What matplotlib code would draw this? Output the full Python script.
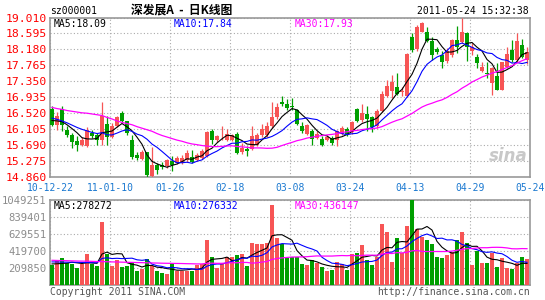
import numpy as np
import pandas as pd
import matplotlib
matplotlib.use("Agg")
import matplotlib.pyplot as plt

# daily candles (open, high, low, close)
opens = [16.64, 16.20, 16.63, 16.09, 15.96, 15.79, 15.68, 15.66, 16.00, 15.94,
         15.83, 16.25, 15.90, 16.18, 16.52, 16.31, 15.83, 15.44, 15.33, 15.50,
         14.88, 15.18, 15.18, 15.14, 15.27, 15.23, 15.23, 15.31, 15.37, 15.31,
         15.36, 15.40, 16.05, 15.82, 15.97, 15.83, 15.82, 15.99, 15.50, 15.60,
         15.59, 15.70, 15.94, 15.94, 16.18, 16.42, 16.80, 16.77, 16.71, 16.61,
         16.18, 15.99, 16.05, 15.88, 15.85, 15.83, 15.87, 15.83, 15.99, 16.12,
         16.02, 16.63, 16.35, 16.51, 16.41, 16.18, 16.58, 16.97, 17.10, 17.19,
         17.07, 16.97, 18.49, 18.18, 18.64, 18.64, 18.40, 18.19, 18.04, 17.88,
         18.04, 18.43, 18.38, 18.60, 18.14, 17.99, 17.62, 17.56, 17.30, 17.48,
         17.13, 17.73, 18.17, 17.91, 18.30, 17.91]
highs = [16.70, 16.54, 16.71, 16.18, 16.00, 15.92, 15.90, 16.15, 16.09, 16.00,
         16.80, 16.44, 16.26, 16.46, 16.57, 16.33, 15.94, 15.50, 15.55, 15.52,
         15.64, 15.22, 15.26, 15.32, 15.40, 15.40, 15.42, 15.57, 15.57, 15.48,
         15.60, 16.06, 16.12, 15.96, 16.18, 16.11, 15.98, 16.03, 15.75, 15.66,
         16.18, 16.00, 16.25, 16.30, 16.80, 16.78, 16.97, 16.88, 16.91, 16.64,
         16.30, 16.24, 16.10, 16.05, 15.92, 15.96, 15.92, 16.08, 16.18, 16.17,
         16.32, 16.66, 16.77, 16.72, 16.45, 16.62, 17.10, 17.39, 17.52, 17.56,
         17.21, 18.08, 18.60, 18.82, 18.90, 18.75, 18.51, 18.25, 18.14, 18.21,
         18.45, 18.80, 18.99, 18.64, 18.34, 18.05, 17.86, 17.86, 17.73, 17.82,
         17.86, 18.25, 18.43, 18.60, 18.45, 18.25]
lows = [16.18, 16.09, 16.05, 15.90, 15.62, 15.53, 15.66, 15.64, 15.88, 15.70,
        15.70, 15.70, 15.88, 16.15, 16.26, 15.96, 15.34, 15.30, 15.30, 14.86,
        14.86, 14.95, 15.08, 15.10, 15.02, 15.20, 15.20, 15.24, 15.22, 15.27,
        15.33, 15.38, 15.72, 15.78, 15.83, 15.80, 15.80, 15.46, 15.47, 15.40,
        15.55, 15.66, 15.90, 15.90, 16.14, 16.38, 16.70, 16.60, 16.61, 16.22,
        16.00, 15.96, 15.70, 15.84, 15.66, 15.80, 15.70, 15.66, 15.96, 15.93,
        15.98, 16.28, 16.30, 16.05, 16.03, 16.14, 16.55, 16.93, 16.91, 17.00,
        16.96, 16.93, 18.11, 18.14, 18.62, 18.38, 17.91, 18.05, 17.69, 17.82,
        17.99, 18.08, 18.34, 17.88, 18.04, 17.69, 17.60, 17.43, 17.00, 17.13,
        17.13, 17.70, 17.86, 17.86, 17.95, 17.80]
closes = [16.22, 16.46, 16.22, 15.94, 15.76, 15.68, 15.81, 16.07, 15.92, 15.83,
          16.44, 15.90, 16.19, 16.42, 16.31, 16.01, 15.38, 15.36, 15.50, 14.92,
          15.18, 15.05, 15.12, 15.30, 15.16, 15.36, 15.36, 15.49, 15.24, 15.44,
          15.53, 16.02, 15.82, 15.92, 15.98, 15.99, 15.96, 15.49, 15.62, 15.53,
          15.92, 15.94, 16.11, 16.18, 16.42, 16.68, 16.77, 16.65, 16.68, 16.25,
          16.05, 16.20, 15.85, 15.99, 15.70, 15.90, 15.75, 16.05, 16.14, 15.99,
          16.28, 16.32, 16.52, 16.38, 16.16, 16.58, 17.03, 17.22, 17.32, 17.02,
          17.10, 18.05, 18.17, 18.75, 18.86, 18.40, 18.04, 18.11, 17.85, 18.14,
          18.43, 18.23, 18.64, 18.25, 18.25, 17.82, 17.73, 17.54, 17.69, 17.13,
          17.86, 18.05, 17.91, 18.40, 17.99, 18.12]
# volume (thousands of shares)
volumes = [247, 300, 328, 275, 259, 206, 259, 377, 259, 234,
           780, 381, 234, 308, 218, 234, 287, 177, 194, 316,
           234, 177, 153, 132, 275, 177, 177, 177, 177, 247,
           259, 552, 348, 206, 275, 340, 340, 369, 377, 234,
           524, 503, 503, 520, 988, 581, 511, 336, 348, 348,
           259, 247, 308, 267, 218, 177, 185, 279, 259, 185,
           381, 389, 499, 308, 247, 348, 756, 658, 287, 585,
           397, 731, 1049, 687, 593, 552, 511, 348, 328, 369,
           410, 552, 654, 520, 247, 418, 267, 267, 389, 218,
           328, 206, 194, 267, 348, 316]
volumes = [v * 1000 for v in volumes]

# moving-average values at the left edge (their windows start before the chart)
ma5_head = [16.33, 16.32, 16.30, 16.22]
ma10_head = [16.39, 16.36, 16.32, 16.27, 16.21, 16.15, 16.10, 16.06, 16.02]
ma30_head = [16.67, 16.64, 16.62, 16.59, 16.57, 16.55, 16.53, 16.52, 16.50, 16.48,
             16.46, 16.41, 16.37, 16.32, 16.28, 16.25, 16.22, 16.17, 16.13, 16.09,
             16.05, 15.99, 15.94, 15.90, 15.86, 15.82, 15.79, 15.75, 15.72]
vma5_head = [260000, 262000, 266000, 270000]
vma10_head = [285000, 284000, 283000, 282000, 281000, 280000, 278000, 277000, 276000]
vma30_head = [305000, 303000, 301000, 300000, 298000, 296000, 295000, 294000, 292000, 290000,
              289000, 287000, 285000, 284000, 282000, 280000, 279000, 277000, 276000, 274000,
              272000, 271000, 269000, 268000, 267000, 266000, 265000, 263000, 262000]

date_labels = ["10-12-22", "11-01-10", "01-26", "02-18", "03-08",
               "03-24", "04-13", "04-29", "05-24"]
price_ticks = [14.860, 15.275, 15.690, 16.105, 16.520, 16.935,
               17.350, 17.765, 18.180, 18.595, 19.010]
vol_ticks = [209850, 419700, 629551, 839401, 1049251]


def moving(values, n, head):
    m = pd.Series(values).rolling(n).mean().to_numpy()
    m[:len(head)] = head
    return m


W, H = 545, 300
RED = "#f75555"
GREEN = "#009f00"
MONO = "DejaVu Sans Mono"

fig = plt.figure(figsize=(W / 100, H / 100), dpi=100)
fig.patch.set_facecolor("white")


def fx(x):
    return x / W


def fy(y):
    return 1 - y / H


ax = fig.add_axes([fx(50), fy(177), fx(480), (177 - 17.5) / H])
axv = fig.add_axes([fx(50), fy(285), fx(480), 85 / H])

idx = np.arange(len(closes))
o = np.array(opens)
c = np.array(closes)
up = c >= o
cols = np.where(up, RED, GREEN)

# candles
ax.vlines(idx, lows, highs, colors=cols, lw=0.9, zorder=3)
ax.bar(idx, np.maximum(np.abs(c - o), 0.012), bottom=np.minimum(o, c),
       width=0.8, color=cols, lw=0, zorder=4)
ax.plot(idx, moving(closes, 5, ma5_head), color="black", lw=0.8, zorder=5)
ax.plot(idx, moving(closes, 10, ma10_head), color="#0000ff", lw=0.8, zorder=5)
ax.plot(idx, moving(closes, 30, ma30_head), color="#ff00ff", lw=0.9, zorder=5)

# volume
axv.bar(idx, volumes, width=0.8, color=cols, lw=0, zorder=3)
axv.plot(idx, moving(volumes, 5, vma5_head), color="black", lw=0.8, zorder=5)
axv.plot(idx, moving(volumes, 10, vma10_head), color="#0000ff", lw=0.8, zorder=5)
axv.plot(idx, moving(volumes, 30, vma30_head), color="#ff00ff", lw=0.9, zorder=5)

xlo = -0.4
xt = [xlo + 12 * k for k in range(len(date_labels))]
for a in (ax, axv):
    a.set_xlim(xlo, xlo + 96)
    a.set_xticks(xt)
    a.grid(True, color="#aaaaaa", ls=(0, (1, 2)), lw=0.8, zorder=0)
    a.tick_params(length=0)
    for s in a.spines.values():
        s.set_color("#999999")
        s.set_linewidth(1.2)
    a.set_facecolor("white")

ax.set_ylim(price_ticks[0], price_ticks[-1])
ax.set_yticks(price_ticks)
ax.set_yticklabels(["%.3f" % t for t in price_ticks], color="#ff0000",
                   fontsize=8.2, family=MONO)
ax.set_xticklabels(date_labels, color="#1a78d0", fontsize=7, family=MONO)
ax.tick_params(axis="y", pad=2.5)
ax.tick_params(axis="x", pad=4.5)

axv.set_ylim(0, vol_ticks[-1])
axv.set_yticks(vol_ticks)
axv.set_yticklabels([str(t) for t in vol_ticks], color="#8c8c8c",
                    fontsize=7.6, family=MONO)
axv.set_xticklabels([])
axv.tick_params(axis="y", pad=2.5)

# header
fig.text(fx(50), fy(11), "sz000001", fontsize=7, family=MONO, va="center")
fig.text(fx(182), fy(10), "深发展A  -  日K线图", fontsize=8.5, fontweight="bold",
         family=["Noto Sans CJK SC", "DejaVu Sans"], va="center", ha="center")
fig.text(fx(529), fy(11), "2011-05-24 15:32:38", fontsize=7, family=MONO,
         va="center", ha="right")

# MA legends
fig.text(fx(54), fy(24), "MA5:18.09", fontsize=7, family=MONO, va="center", color="black")
fig.text(fx(174), fy(24), "MA10:17.84", fontsize=7, family=MONO, va="center", color="#0000ff")
fig.text(fx(295), fy(24), "MA30:17.93", fontsize=7, family=MONO, va="center", color="#ff00ff")
fig.text(fx(54), fy(206), "MA5:278272", fontsize=7, family=MONO, va="center", color="black")
fig.text(fx(174), fy(206), "MA10:276332", fontsize=7, family=MONO, va="center", color="#0000ff")
fig.text(fx(295), fy(206), "MA30:436147", fontsize=7, family=MONO, va="center", color="#ff00ff")

# watermark
fig.text(fx(508), fy(156), "sina", fontsize=12, fontweight="bold", style="italic",
         color="#c8c8c8", ha="center", va="center")

# footer
fig.text(fx(50), fy(292), "Copyright 2011 SINA.COM", fontsize=7, family=MONO,
         va="center", color="#555555")
fig.text(fx(530), fy(292), "http://finance.sina.com.cn", fontsize=7, family=MONO,
         va="center", ha="right", color="#555555")

fig.savefig("out.png", dpi=100, facecolor="white")
